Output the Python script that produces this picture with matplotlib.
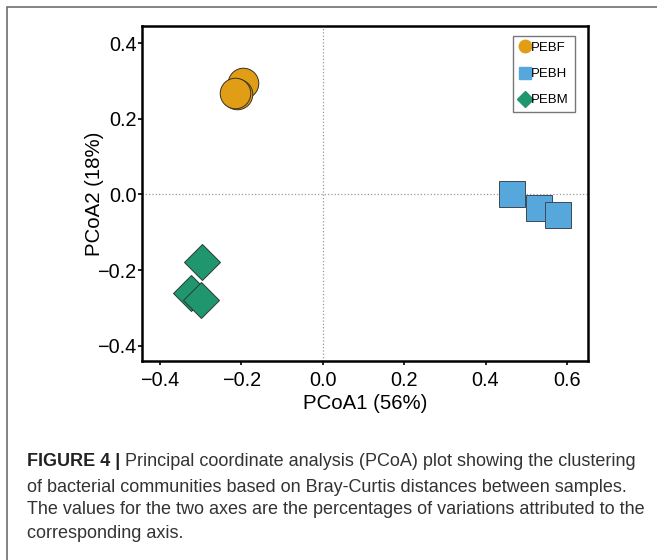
import matplotlib
matplotlib.use("Agg")
import matplotlib.pyplot as plt
from matplotlib.patches import Rectangle

plt.rcParams['font.family'] = ['Liberation Sans', 'DejaVu Sans']

# PCoA coordinates
pebf_x = [-0.197, -0.210, -0.216]
pebf_y = [0.295, 0.264, 0.268]
pebh_x = [0.466, 0.532, 0.579]
pebh_y = [0.000, -0.036, -0.055]
pebm_x = [-0.296, -0.323, -0.300]
pebm_y = [-0.178, -0.261, -0.279]

xticks = [-0.4, -0.2, 0.0, 0.2, 0.4, 0.6]
yticks = [-0.4, -0.2, 0.0, 0.2, 0.4]

fig = plt.figure(figsize=(6.57, 5.6), dpi=100)

# outer frame of the figure panel (open to the right and bottom)
fig.patches.append(Rectangle((7/657, -0.1), 1.2, (560-7)/560 + 0.1, transform=fig.transFigure,
                             fill=False, edgecolor='#6e6e6e', linewidth=1.2))

ax = fig.add_axes([0.2161, 0.3554, 0.679, 0.5982])
ax.axhline(0, color='#999999', linestyle=':', linewidth=0.9, zorder=1)
ax.axvline(0, color='#999999', linestyle=':', linewidth=0.9, zorder=1)

ax.plot(pebf_x, pebf_y, 'o', markersize=22, markerfacecolor='#E09E17',
        markeredgecolor='#3a3020', markeredgewidth=0.7, linestyle='none', zorder=3)
ax.plot(pebh_x, pebh_y, 's', markersize=18.5, markerfacecolor='#56A8DC',
        markeredgecolor='#3a4a55', markeredgewidth=0.7, linestyle='none', zorder=3)
ax.plot(pebm_x, pebm_y, 'D', markersize=18.5, markerfacecolor='#20966E',
        markeredgecolor='#2a3a32', markeredgewidth=0.7, linestyle='none', zorder=3)

ax.set_xlim(-0.444, 0.652)
ax.set_ylim(-0.44, 0.445)
ax.set_xticks(xticks)
ax.set_yticks(yticks)
ax.set_xticklabels(['\u22120.4', '\u22120.2', '0.0', '0.2', '0.4', '0.6'])
ax.set_yticklabels(['\u22120.4', '\u22120.2', '0.0', '0.2', '0.4'])
ax.tick_params(direction='out', length=3, width=1.2, labelsize=14.3)
ax.tick_params(axis='x', pad=4)
ax.tick_params(axis='y', pad=1)
for s in ax.spines.values():
    s.set_linewidth(1.8)
ax.set_xlabel('PCoA1 (56%)', fontsize=14.7, labelpad=3)
ax.set_ylabel('PCoA2 (18%)', fontsize=14.7, labelpad=-5)

h1, = ax.plot([], [], 'o', markersize=9, markerfacecolor='#E09E17', markeredgecolor='#E09E17', linestyle='none')
h2, = ax.plot([], [], 's', markersize=8, markerfacecolor='#56A8DC', markeredgecolor='#56A8DC', linestyle='none')
h3, = ax.plot([], [], 'D', markersize=8, markerfacecolor='#20966E', markeredgecolor='#20966E', linestyle='none')
leg = ax.legend([h1, h2, h3], ['PEBF', 'PEBH', 'PEBM'], loc='upper right',
                bbox_to_anchor=(0.985, 0.99), fontsize=9.5, handlelength=0.8,
                handletextpad=0.1, labelspacing=1.05, borderpad=0.45,
                fancybox=False, edgecolor='#777777', framealpha=1)
leg.get_frame().set_linewidth(1.0)

# caption
lines = [
    'Principal coordinate analysis (PCoA) plot showing the clustering',
    'of bacterial communities based on Bray-Curtis distances between samples.',
    'The values for the two axes are the percentages of variations attributed to the',
    'corresponding axis.',
]
cap_y = [462, 487, 510, 534]
cap_fs = 13.0
t = fig.text(27/657, 1 - cap_y[0]/560, 'FIGURE 4 | ', fontsize=cap_fs, fontweight='bold',
             va='center', ha='left', color='#222222')
fig.canvas.draw()
bb = t.get_window_extent()
fig.text(bb.x1/657, 1 - cap_y[0]/560, lines[0], fontsize=cap_fs, va='center', ha='left', color='#333333')
for ln, yy in zip(lines[1:], cap_y[1:]):
    fig.text(27/657, 1 - yy/560, ln, fontsize=cap_fs, va='center', ha='left', color='#333333')

fig.savefig('out.png', dpi=100)
